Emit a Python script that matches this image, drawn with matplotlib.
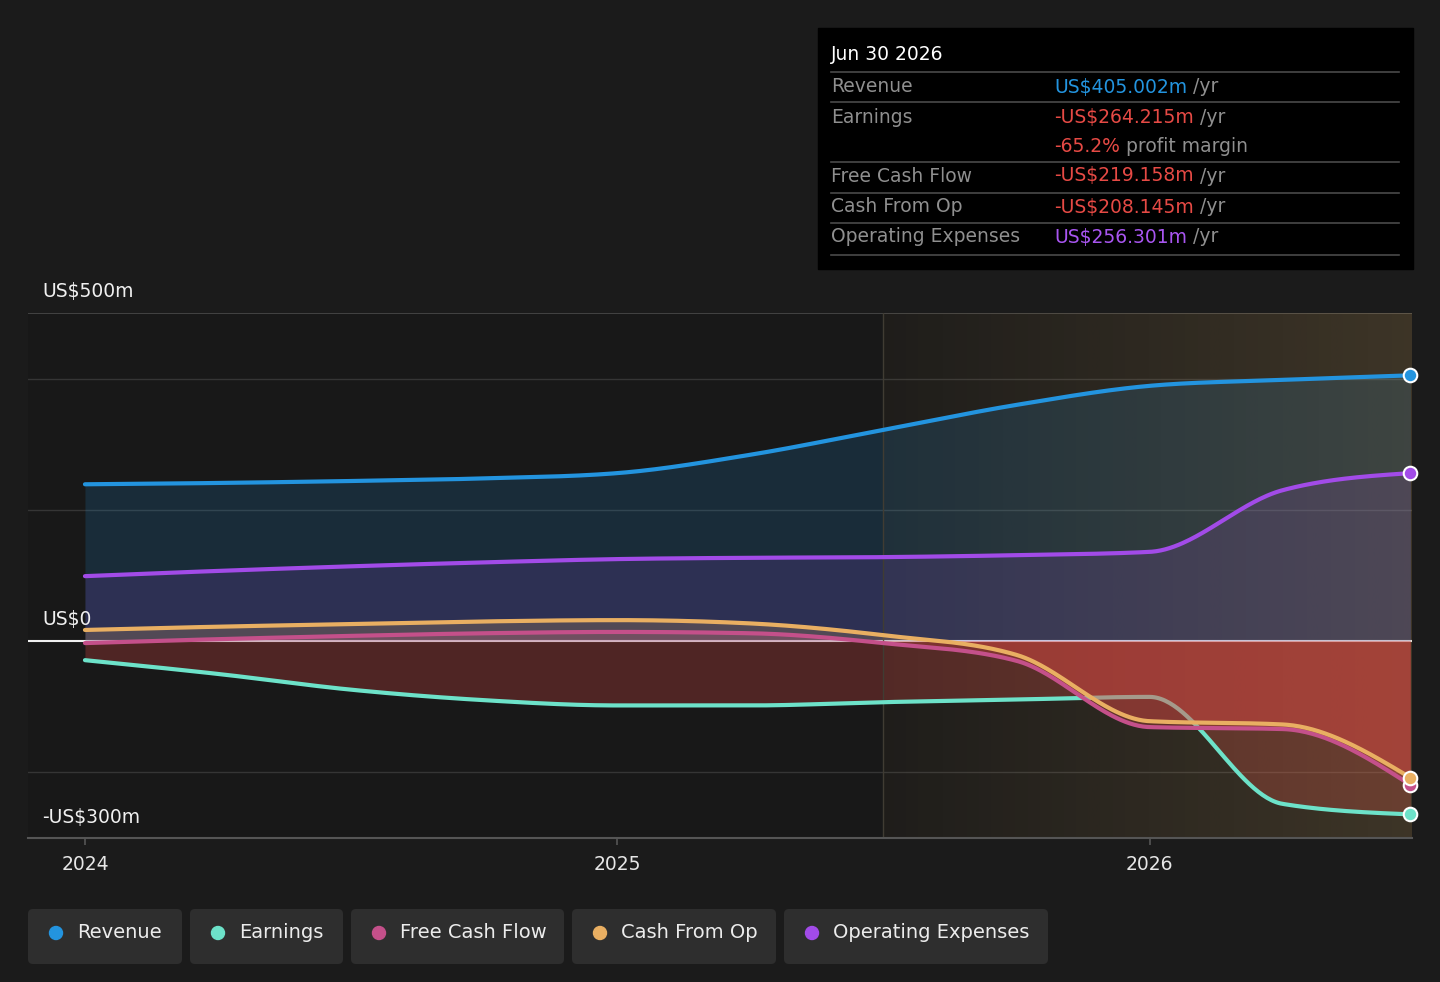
#Revenue / earnings / cash flow chart, dark theme
#values, in US$ millions

import numpy as np
import matplotlib
matplotlib.use('Agg')
import matplotlib.pyplot as plt
import matplotlib.patches as mpatches

#quarterly dates as fractional years (last one = Jun 30 2026)
dates = [2024.0, 2024.25, 2024.5, 2024.75, 2025.0, 2025.25, 2025.5,
         2025.75, 2026.0, 2026.25, 2026.49]
revenue = [239, 241, 244, 248, 256, 284, 322, 360, 389, 398, 405]
earnings = [-29, -50, -74, -90, -98, -98, -93, -89, -85, -248, -264]
free_cash_flow = [-3, 3, 8, 12, 14, 12, -3, -30, -131, -134, -219]
cash_from_op = [17, 22, 26, 30, 32, 27, 9, -21, -122, -127, -208]
op_expenses = [99, 107, 114, 120, 125, 127, 128, 131, 136, 230, 256]

forecast_start = 2025.5
year_ticks = [2024, 2025, 2026]
series_names = ['Revenue', 'Earnings', 'Free Cash Flow', 'Cash From Op', 'Operating Expenses']

#tooltip rows: label, coloured value, grey suffix
tip_date = 'Jun 30 2026'
tip_rows = [('Revenue', 'US$405.002m', ' /yr'),
            ('Earnings', '-US$264.215m', ' /yr'),
            ('', '-65.2%', ' profit margin'),
            ('Free Cash Flow', '-US$219.158m', ' /yr'),
            ('Cash From Op', '-US$208.145m', ' /yr'),
            ('Operating Expenses', 'US$256.301m', ' /yr')]

#colours
bg = '#1b1b1b'
blue = '#2394df'
teal = '#6de2c9'
pink = '#c4508a'
orange = '#e9af62'
purple = '#a24be8'
red = '#e64a45'
grey = '#8f8f8f'


def monotone(x, y, n=60):
    #monotone cubic curve through the points (same idea as d3 curveMonotoneX)
    x = np.asarray(x, float)
    y = np.asarray(y, float)
    h = np.diff(x)
    d = np.diff(y) / h
    m = np.zeros_like(y)
    for i in range(1, len(y) - 1):
        p = (d[i-1] * h[i] + d[i] * h[i-1]) / (h[i-1] + h[i])
        m[i] = (np.sign(d[i-1]) + np.sign(d[i])) * min(abs(d[i-1]), abs(d[i]), 0.5 * abs(p))
    m[0] = (3 * d[0] - m[1]) / 2
    m[-1] = (3 * d[-1] - m[-2]) / 2
    xs = []
    ys = []
    for i in range(len(h)):
        s = np.linspace(0, 1, n, endpoint=False)
        h00 = 2*s**3 - 3*s**2 + 1
        h10 = s**3 - 2*s**2 + s
        h01 = -2*s**3 + 3*s**2
        h11 = s**3 - s**2
        xs.append(x[i] + s * h[i])
        ys.append(h00*y[i] + h10*h[i]*m[i] + h01*y[i+1] + h11*h[i]*m[i+1])
    xs.append([x[-1]])
    ys.append([y[-1]])
    return np.concatenate(xs), np.concatenate(ys)


W, H = 1440, 982
fig = plt.figure(figsize=(W/100, H/100), dpi=100, facecolor=bg)

#axes placed by pixel edges of the reference
left, right, top, bottom = 28, 1412, 313, 838
ax = fig.add_axes([left/W, 1 - bottom/H, (right-left)/W, (bottom-top)/H])
ax.set_facecolor('#181818')

xmin, xmax = 2023.893, 2026.493
ymin, ymax = -300, 500

#grid
for g in [400, 200, -200]:
    ax.axhline(g, color='#353535', lw=1, zorder=0.5)
ax.axhline(ymax, color='#4a4a4a', lw=1.2, zorder=0.5)
ax.axhline(0, color='#f0f0f0', lw=1.5, zorder=0.6)

tr, yr = monotone(dates, revenue)
te, ye = monotone(dates, earnings)
tf, yf = monotone(dates, free_cash_flow)
tc, yc = monotone(dates, cash_from_op)
to, yo = monotone(dates, op_expenses)

#area fills down to zero
ax.fill_between(tr, yr, 0, color=blue, alpha=0.17, lw=0, zorder=1)
ax.fill_between(to, yo, 0, color=purple, alpha=0.15, lw=0, zorder=1)
ax.fill_between(te, ye, 0, where=ye < 0, interpolate=True, color=red, alpha=0.27, lw=0, zorder=1)

#forecast region: lighter, brownish tint growing to the right
tint = np.zeros((1, 200, 4))
tint[0, :, 0] = 0.80
tint[0, :, 1] = 0.64
tint[0, :, 2] = 0.38
tint[0, :, 3] = np.linspace(0.04, 0.21, 200)
ax.imshow(tint, extent=[forecast_start, xmax, ymin, ymax], aspect='auto',
          interpolation='bilinear', zorder=2)
ax.axvline(forecast_start, color='#403c33', lw=1, zorder=2.1)

#earnings line sits under the cash flow fills
ax.plot(te, ye, color=teal, lw=3, solid_capstyle='round', zorder=3)

ax.fill_between(tf, yf, 0, where=yf < 0, interpolate=True, color=red, alpha=0.27, lw=0, zorder=4)
ax.fill_between(tf, yf, 0, where=yf >= 0, interpolate=True, color=pink, alpha=0.25, lw=0, zorder=4)
ax.fill_between(tc, yc, 0, where=yc < 0, interpolate=True, color=red, alpha=0.27, lw=0, zorder=4)
ax.fill_between(tc, yc, 0, where=yc >= 0, interpolate=True, color=orange, alpha=0.2, lw=0, zorder=4)

ax.plot(tr, yr, color=blue, lw=3, solid_capstyle='round', zorder=5)
ax.plot(to, yo, color=purple, lw=3, solid_capstyle='round', zorder=5)
ax.plot(tf, yf, color=pink, lw=3, solid_capstyle='round', zorder=5)
ax.plot(tc, yc, color=orange, lw=3, solid_capstyle='round', zorder=5.1)

#end markers
ends = [(revenue, blue), (op_expenses, purple), (free_cash_flow, pink),
        (cash_from_op, orange), (earnings, teal)]
for vals, c in ends:
    ax.scatter([dates[-1]], [vals[-1]], s=95, color=c, edgecolor='white',
               linewidth=1.5, zorder=10, clip_on=False)

ax.set_xlim(xmin, xmax)
ax.set_ylim(ymin, ymax)

#axes styling
for s in ['top', 'right', 'left']:
    ax.spines[s].set_visible(False)
ax.spines['bottom'].set_color('#555555')
ax.spines['bottom'].set_linewidth(1.5)
ax.set_yticks([])
ax.set_xticks(year_ticks)
ax.set_xticklabels([str(y) for y in year_ticks])
ax.tick_params(axis='x', colors='#555555', length=5, width=1.2, pad=7,
               labelsize=13.5, labelcolor='#e6e6e6')


def px(x, y):
    return x / W, 1 - y / H


#y axis labels
fig.text(*px(42, 291), 'US$500m', color='#f0f0f0', fontsize=13.5, va='center')
fig.text(*px(42, 620), 'US$0', color='#f0f0f0', fontsize=13.5, va='center')
fig.text(*px(42, 817), '-US$300m', color='#f0f0f0', fontsize=13.5, va='center')

#tooltip box
fig.patches.append(mpatches.Rectangle((818/100, (H-269)/100), 595/100, 241/100,
                                      transform=fig.dpi_scale_trans, color='#000000', zorder=1))
fig.text(*px(831, 55), tip_date, color='white', fontsize=13.5, va='center', zorder=3)
row_y = [87, 117, 146, 176, 207, 237]
sep_y = [72, 102, 162, 193, 223, 255]
for yy in sep_y:
    fig.add_artist(plt.Line2D([831/W, 1399/W], [1 - yy/H, 1 - yy/H], color='#4a4a4a', lw=1.2, zorder=2))
val_colors = [blue, red, red, red, red, '#a855f0']
for (lab, val, suf), yy, vc in zip(tip_rows, row_y, val_colors):
    fig.text(*px(831, yy), lab, color=grey, fontsize=13.5, va='center', zorder=3)
    t = fig.text(*px(1054, yy), val, color=vc, fontsize=13.5, va='center', zorder=3)
    fig.canvas.draw()
    bb = t.get_window_extent()
    fig.text(bb.x1 / W, 1 - yy / H, suf, color=grey, fontsize=13.5, va='center', zorder=3)

#legend chips
chips = [(28, 182), (190, 343), (351, 564), (572, 776), (784, 1048)]
chip_colors = [blue, teal, pink, orange, purple]
for (x0, x1), name, c in zip(chips, series_names, chip_colors):
    box = mpatches.FancyBboxPatch((x0/100, (H-964)/100), (x1-x0)/100, 55/100,
                                  boxstyle='round,pad=0,rounding_size=0.05',
                                  transform=fig.dpi_scale_trans, facecolor='#2e2e2e',
                                  edgecolor='none', zorder=1)
    fig.patches.append(box)
    fig.add_artist(mpatches.Circle(((x0+28)/100, (H-933)/100), 0.065,
                                   transform=fig.dpi_scale_trans, color=c, zorder=2))
    fig.text(*px(x0+49, 933), name, color='#ececec', fontsize=14, va='center', zorder=3)

fig.savefig('out.png', dpi=100, facecolor=bg)
